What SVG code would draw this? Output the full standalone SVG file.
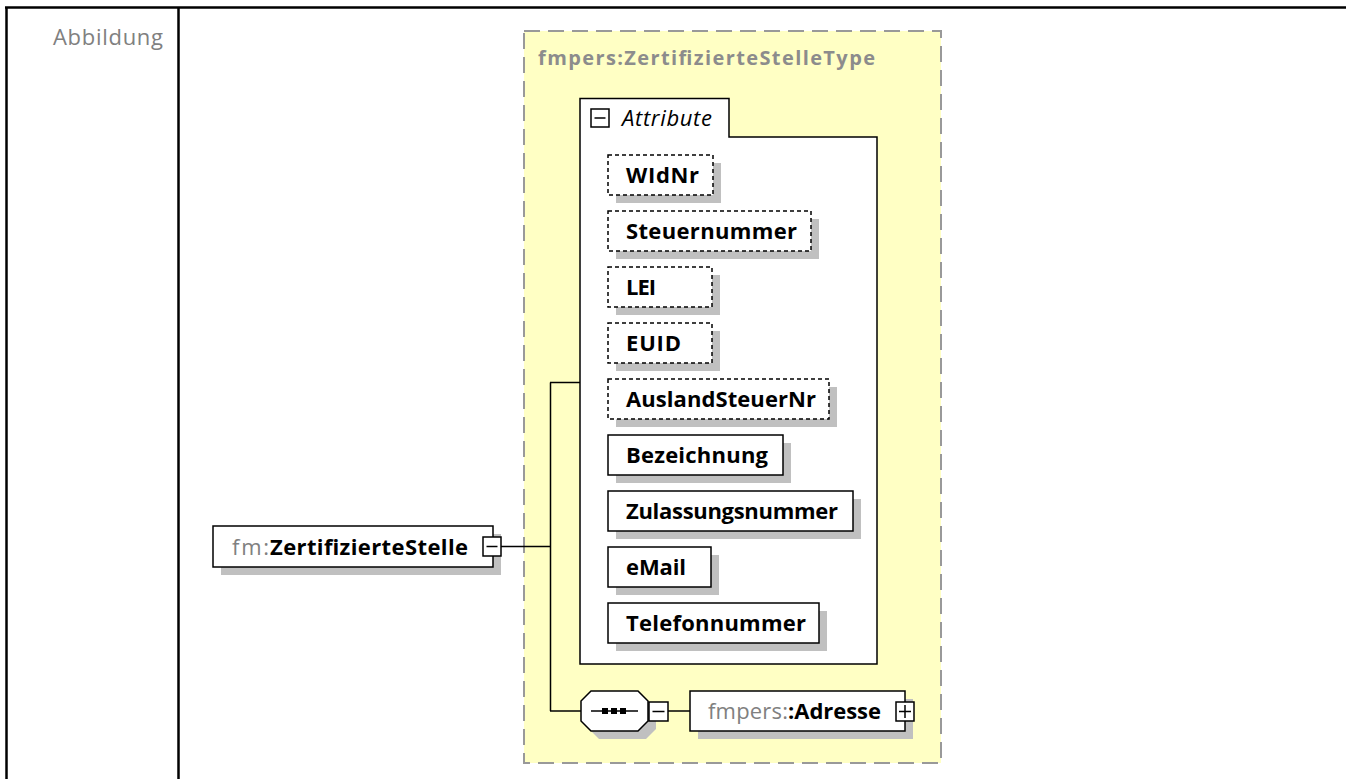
<svg xmlns="http://www.w3.org/2000/svg" width="1346" height="779" viewBox="0 0 1346 779">
<style>
.frame{stroke:#000;stroke-width:2.5;fill:none}
.lbl{font-family:"Open Sans","Noto Sans","Liberation Sans",sans-serif;font-size:22px;font-weight:bold;fill:#000}
.ns{font-family:"Open Sans","Noto Sans","Liberation Sans",sans-serif;font-size:22px;fill:#808080}
.box{fill:#fff;stroke:#000;stroke-width:1.5}
.dbox{fill:#fff;stroke:#000;stroke-width:1.5;stroke-dasharray:4,3}
.shadow{fill:#c0c0c0}
.conn{stroke:#000;stroke-width:1.5;fill:none}
</style>
<rect x="0" y="0" width="1346" height="779" fill="#fff"/>
<g id="table">
<line class="frame" x1="5" y1="7.5" x2="1346" y2="7.5"/>
<line class="frame" x1="6.5" y1="7" x2="6.5" y2="779"/>
<line class="frame" x1="178.5" y1="7" x2="178.5" y2="779"/>
<text x="163" y="45" text-anchor="end" textLength="110" style="font-family:'Open Sans','Noto Sans','Liberation Sans',sans-serif;font-size:22px;fill:#808080">Abbildung</text>
</g>
<g id="type">
<rect x="524" y="31" width="417" height="732" fill="#ffffc4" stroke="#999" stroke-width="2" stroke-dasharray="16,8"/>
<text x="538" y="65" textLength="337" style="font-family:'Open Sans','Noto Sans','Liberation Sans',sans-serif;font-size:20px;font-weight:bold;fill:#8c8c8c">fmpers:ZertifizierteStelleType</text>
</g>
<g id="connectors">
<line class="conn" x1="501" y1="546.5" x2="550.5" y2="546.5"/>
<line class="conn" x1="550.5" y1="382.5" x2="550.5" y2="711"/>
<line class="conn" x1="550" y1="382.5" x2="580" y2="382.5"/>
<line class="conn" x1="550" y1="711" x2="581" y2="711"/>
<line class="conn" x1="668" y1="711" x2="690" y2="711"/>
</g>
<g id="attributes">
<path d="M580,98.5 H729 V137 H877 V664 H580 Z" fill="#fff" stroke="#000" stroke-width="1.5"/>
<rect x="591" y="109" width="18" height="18" fill="#fff" stroke="#000" stroke-width="1.5"/>
<line x1="594.5" y1="118" x2="605.5" y2="118" stroke="#000" stroke-width="1.5"/>
<text x="622" y="126" textLength="90" style="font-family:'Open Sans','Noto Sans','Liberation Sans',sans-serif;font-size:22px;font-style:italic;fill:#000">Attribute</text>
</g>
<g id="WIdNr">
<rect class="shadow" x="616" y="163" width="105" height="40"/>
<rect class="dbox" x="608" y="155" width="105" height="40"/>
<text class="lbl" x="626" y="183.3" textLength="73">WIdNr</text>
</g>
<g id="Steuernummer">
<rect class="shadow" x="616" y="219" width="203" height="40"/>
<rect class="dbox" x="608" y="211" width="203" height="40"/>
<text class="lbl" x="626" y="239.3" textLength="171">Steuernummer</text>
</g>
<g id="LEI">
<rect class="shadow" x="616" y="275" width="104" height="40"/>
<rect class="dbox" x="608" y="267" width="104" height="40"/>
<text class="lbl" x="626" y="295.3" textLength="30">LEI</text>
</g>
<g id="EUID">
<rect class="shadow" x="616" y="331" width="104" height="40"/>
<rect class="dbox" x="608" y="323" width="104" height="40"/>
<text class="lbl" x="626" y="351.3" textLength="55">EUID</text>
</g>
<g id="AuslandSteuerNr">
<rect class="shadow" x="616" y="387" width="221" height="40"/>
<rect class="dbox" x="608" y="379" width="221" height="40"/>
<text class="lbl" x="626" y="407.3" textLength="190">AuslandSteuerNr</text>
</g>
<g id="Bezeichnung">
<rect class="shadow" x="616" y="443" width="175" height="40"/>
<rect class="box" x="608" y="435" width="175" height="40"/>
<text class="lbl" x="626" y="463.3" textLength="142">Bezeichnung</text>
</g>
<g id="Zulassungsnummer">
<rect class="shadow" x="616" y="499" width="245" height="40"/>
<rect class="box" x="608" y="491" width="245" height="40"/>
<text class="lbl" x="626" y="519.3" textLength="212">Zulassungsnummer</text>
</g>
<g id="eMail">
<rect class="shadow" x="616" y="555" width="103" height="40"/>
<rect class="box" x="608" y="547" width="103" height="40"/>
<text class="lbl" x="626" y="575.3" textLength="60">eMail</text>
</g>
<g id="Telefonnummer">
<rect class="shadow" x="616" y="611" width="211" height="40"/>
<rect class="box" x="608" y="603" width="211" height="40"/>
<text class="lbl" x="626" y="631.3" textLength="180">Telefonnummer</text>
</g>
<g id="ZertifizierteStelle">
<rect class="shadow" x="221" y="534" width="280" height="41"/>
<rect class="box" x="213" y="526" width="280" height="41"/>
<text class="ns" x="232" y="555" textLength="37">fm:</text>
<text class="lbl" x="270" y="555" textLength="198">ZertifizierteStelle</text>
<rect x="483" y="537" width="18" height="19" fill="#fff" stroke="#000" stroke-width="1.5"/>
<line x1="486.5" y1="546.5" x2="497.5" y2="546.5" stroke="#000" stroke-width="1.5"/>
</g>
<g id="sequence">
<path d="M599,699 H646 L656,709 V729 L646,739 H599 L589,729 V709 Z" class="shadow"/>
<path d="M591,691 H638 L648,701 V721 L638,731 H591 L581,721 V701 Z" fill="#fff" stroke="#000" stroke-width="1.5"/>
<line x1="591" y1="711" x2="638" y2="711" stroke="#000" stroke-width="1.5"/>
<rect x="602" y="708" width="6" height="6" fill="#000"/>
<rect x="611" y="708" width="6" height="6" fill="#000"/>
<rect x="620" y="708" width="6" height="6" fill="#000"/>
<rect x="649" y="702" width="19" height="19" fill="#fff" stroke="#000" stroke-width="1.5"/>
<line x1="652.5" y1="711.5" x2="664.5" y2="711.5" stroke="#000" stroke-width="1.5"/>
</g>
<g id="Adresse">
<rect class="shadow" x="698" y="699" width="215" height="40"/>
<rect class="box" x="690" y="691" width="215" height="40"/>
<text class="ns" x="708" y="719.3" textLength="80">fmpers:</text>
<text class="lbl" x="788" y="719.3" textLength="93">:Adresse</text>
<rect x="896" y="702" width="18" height="19" fill="#fff" stroke="#000" stroke-width="1.5"/>
<line x1="899" y1="711.5" x2="911" y2="711.5" stroke="#000" stroke-width="1.5"/>
<line x1="905" y1="705" x2="905" y2="718" stroke="#000" stroke-width="1.5"/>
</g>
</svg>
